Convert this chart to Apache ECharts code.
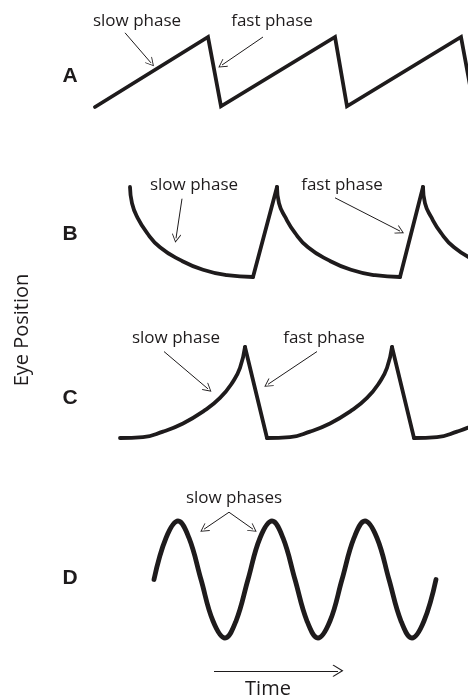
<!DOCTYPE html>
<html>
<head>
<meta charset="utf-8">
<script src="https://cdn.jsdelivr.net/npm/echarts@6/dist/echarts.min.js"></script>
<style>
html, body { margin: 0; padding: 0; background: #fff; }
#main { width: 468px; height: 697px; }
</style>
</head>
<body>
<div id="main"></div>
<script>
// x = time (0..468), y = eye position, one scale per panel
var waveA = [[95,0],[208,10],[221,0.1],[335,10],[347,0.1],[461,10],[474,0]];

var slowB = [
    [[130,10],[132,8.2],[137,6.7],[147,4.9],[160,3.3],[180,1.9],[203,0.8],[227,0.2],[253,0]],
    [[277,10],[279,8.2],[285,6.7],[295,4.9],[308,3.3],[328,1.9],[351,0.8],[375,0.2],[400,0]],
    [[423,10],[425,8.2],[431,6.7],[441,4.9],[454,3.3],[474,1.9],[497,0.8],[521,0.2],[546,0]]
];
var fastB = [[[253,0],[277,10]], [[400,0],[423,10]]];

var slowC = [
    [[120,0],[143,0.1],[163,0.7],[183,1.6],[203,2.9],[220,4.4],[233,6.2],[240,7.7],[245,10]],
    [[267,0],[290,0.1],[310,0.7],[330,1.6],[350,2.9],[367,4.4],[380,6.2],[387,7.7],[392,10]],
    [[414,0],[437,0.1],[457,0.7],[477,1.6],[497,2.9],[514,4.4],[527,6.2],[534,7.7],[539,10]]
];
var fastC = [[[245,10],[267,0]], [[392,10],[414,0]]];

var waveD = [[154,0],[166,7.1],[178,10],[189,7.1],[201,0],[213,-7.1],[225,-10],[236,-7.1],
    [248,0],[260,7.1],[272,10],[283,7.1],[295,0],[307,-7.1],[318,-10],[330,-7.1],
    [342,0],[354,7.1],[365,10],[377,7.1],[389,0],[401,-7.1],[412,-10],[424,-7.1],[436,0]];

// annotation arrows [from, to]
var arrowsA = [[[125,10.6],[151,6.3]], [[263,10],[222,6.0]]];
var arrowsB = [[[182,8.7],[176,4.3]], [[335,8.8],[400,5.1]]];
var arrowsC = [[[164,9.5],[208,5.4]], [[317,9.5],[268,5.9]]];
var arrowsD = [[[229,11.5],[204,8.6]], [[229,11.5],[253,8.6]]];
var timeArrow = [[[214,-15.6],[338,-15.6]]];

var ink = '#1e1b1c';
var chevron = 'path://M0,0 L10,9 L9,10 L0,2 L-9,10 L-10,9 Z';

var grids = [
    {left: 0, width: 468, top: 9, height: 112},
    {left: 0, width: 468, top: 169, height: 126},
    {left: 0, width: 468, top: 328.8, height: 127.4},
    {left: 0, width: 468, top: 497.6, height: 181.35}
];
var yRanges = [[-2, 14], [-2, 12], [-2, 12], [-17, 14]];

function mkLine(gi, data, smooth, width) {
    return {
        type: 'line', xAxisIndex: gi, yAxisIndex: gi,
        data: data, smooth: smooth, symbol: 'none', silent: true,
        lineStyle: {color: ink, width: width, cap: 'round', join: 'miter'}
    };
}

function mkArrows(gi, list, size) {
    return {
        type: 'line', xAxisIndex: gi, yAxisIndex: gi, data: [], silent: true,
        markLine: {
            silent: true,
            symbol: ['none', chevron],
            symbolSize: size,
            label: {show: false},
            lineStyle: {color: ink, width: 1, type: 'solid'},
            emphasis: {disabled: true},
            data: list.map(function (a) {
                return [{coord: a[0]}, {coord: a[1]}];
            })
        }
    };
}

var series = [];
series.push(mkLine(0, waveA, false, 3.8));
slowB.forEach(function (s) { series.push(mkLine(1, s, 0.5, 3.8)); });
fastB.forEach(function (s) { series.push(mkLine(1, s, false, 3.8)); });
slowC.forEach(function (s) { series.push(mkLine(2, s, 0.5, 3.8)); });
fastC.forEach(function (s) { series.push(mkLine(2, s, false, 3.8)); });
series.push(mkLine(3, waveD, 0.4, 4.8));
series.push(mkArrows(0, arrowsA, [9, 9]));
series.push(mkArrows(1, arrowsB, [9, 9]));
series.push(mkArrows(2, arrowsC, [9, 9]));
series.push(mkArrows(3, arrowsD, [9, 9]));
series.push(mkArrows(3, timeArrow, [12, 11]));

function txt(x, y, s, size, extra) {
    var st = {
        text: s, x: 0, y: 0, fill: ink,
        font: size + 'px "Open Sans"', align: 'center', verticalAlign: 'middle'
    };
    if (extra) st.font = extra;
    return {type: 'text', x: x, y: y, silent: true, style: st};
}

var bold = 'bold 21px "Liberation Sans"';
var graphic = [
    txt(137, 21, 'slow phase', 17), txt(272, 21, 'fast phase', 17),
    txt(194, 185, 'slow phase', 17), txt(342, 185, 'fast phase', 17),
    txt(176, 338, 'slow phase', 17), txt(324, 338, 'fast phase', 17),
    txt(234, 498, 'slow phases', 17),
    txt(268, 689, 'Time', 20),
    txt(70, 76, 'A', 21, bold), txt(70, 234, 'B', 21, bold),
    txt(70, 398, 'C', 21, bold), txt(70, 578, 'D', 21, bold)
];
var eye = txt(22, 330, 'Eye Position', 20);
eye.rotation = Math.PI / 2;
graphic.push(eye);

var myChart = echarts.init(document.getElementById('main'));
var option = {
    animation: false,
    grid: grids,
    xAxis: grids.map(function (g, i) {
        return {type: 'value', gridIndex: i, min: 0, max: 468, show: false};
    }),
    yAxis: grids.map(function (g, i) {
        return {type: 'value', gridIndex: i, min: yRanges[i][0], max: yRanges[i][1], show: false};
    }),
    graphic: graphic,
    series: series
};
myChart.setOption(option);
</script>
</body>
</html>
